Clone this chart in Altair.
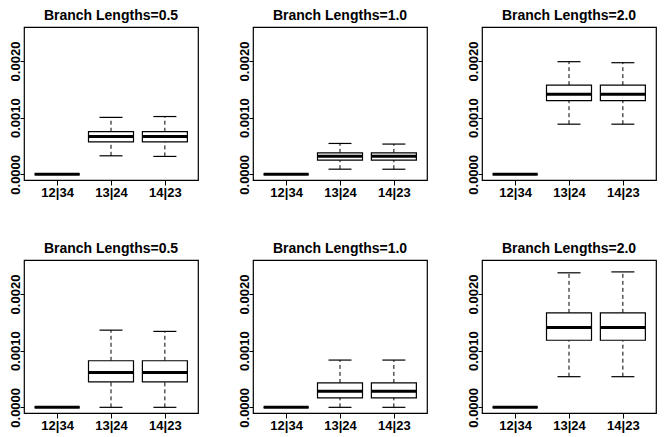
import altair as alt
import pandas as pd

categories = ["12|34", "13|24", "14|23"]
titles = ["Branch Lengths=0.5", "Branch Lengths=1.0", "Branch Lengths=2.0",
          "Branch Lengths=0.5", "Branch Lengths=1.0", "Branch Lengths=2.0"]

# per panel, per category (12|34, 13|24, 14|23)
lower = [
    [0.0, 0.000327, 0.000316],
    [0.0, 0.000091, 0.000090],
    [0.0, 0.000885, 0.000885],
    [0.0, 0.0, 0.0],
    [0.0, 0.0, 0.0],
    [0.0, 0.000541, 0.000541],
]
q1 = [
    [0.0, 0.000574, 0.000574],
    [0.0, 0.000252, 0.000252],
    [0.0, 0.001300, 0.001300],
    [0.0, 0.000448, 0.000448],
    [0.0, 0.000167, 0.000167],
    [0.0, 0.001184, 0.001184],
]
median = [
    [0.0, 0.000666, 0.000666],
    [0.0, 0.000320, 0.000320],
    [0.0, 0.001414, 0.001414],
    [0.0, 0.000616, 0.000616],
    [0.0, 0.000282, 0.000282],
    [0.0, 0.001408, 0.001408],
]
q3 = [
    [0.0, 0.000752, 0.000752],
    [0.0, 0.000379, 0.000379],
    [0.0, 0.001574, 0.001574],
    [0.0, 0.000822, 0.000822],
    [0.0, 0.000431, 0.000431],
    [0.0, 0.001667, 0.001667],
]
upper = [
    [0.0, 0.001005, 0.001020],
    [0.0, 0.000545, 0.000534],
    [0.0, 0.001988, 0.001970],
    [0.0, 0.001362, 0.001340],
    [0.0, 0.000834, 0.000834],
    [0.0, 0.002374, 0.002390],
]

y_ticks = [0.0, 0.0005, 0.001, 0.0015, 0.002, 0.0025]
y_domain = [-0.0001, 0.0026]

rows = []
for p in range(6):
    for i, c in enumerate(categories):
        rows.append(dict(panel=p, cat=c, lo=lower[p][i], q1=q1[p][i],
                         med=median[p][i], q3=q3[p][i], hi=upper[p][i]))
df = pd.DataFrame(rows)

FONT = "Liberation Sans"


def panel(p):
    base = alt.Chart(df).transform_filter(alt.datum.panel == p)
    xenc = alt.X("cat:N", sort=categories,
                 scale=alt.Scale(type="point", padding=0.615),
                 axis=alt.Axis(title=None, labelAngle=0, tickSize=5,
                               labelPadding=1, domain=False, grid=False,
                               labelFontSize=13))
    yscale = alt.Scale(domain=y_domain, nice=False, zero=False)
    yaxis = alt.Axis(values=y_ticks, title=None, grid=False, domain=False,
                     tickSize=4, labelPadding=1, labelAngle=270,
                     labelAlign="center", labelBaseline="alphabetic",
                     labelOverlap=False, labelFlush=False, labelFontSize=13,
                     labelExpr="datum.value == 0 || datum.value == 0.001 || datum.value == 0.002 ? format(datum.value, '.4f') : ''")
    wh_hi = base.mark_rule(color="black", strokeDash=[4, 3], strokeWidth=1).encode(
        x=xenc, y=alt.Y("q3:Q", scale=yscale, axis=yaxis), y2="hi:Q")
    wh_lo = base.mark_rule(color="black", strokeDash=[4, 3], strokeWidth=1).encode(
        x=xenc, y=alt.Y("lo:Q", scale=yscale), y2="q1:Q")
    box = base.mark_bar(size=45, fill="white", stroke="black", strokeWidth=1.2).encode(
        x=xenc, y=alt.Y("q1:Q", scale=yscale), y2="q3:Q")
    cap_hi = base.mark_tick(size=23, thickness=1.2, color="black", opacity=1).encode(
        x=xenc, y=alt.Y("hi:Q", scale=yscale))
    cap_lo = base.mark_tick(size=23, thickness=1.2, color="black", opacity=1).encode(
        x=xenc, y=alt.Y("lo:Q", scale=yscale))
    med = base.mark_tick(size=45, thickness=3, color="black", opacity=1).encode(
        x=xenc, y=alt.Y("med:Q", scale=yscale))
    return alt.layer(wh_hi, wh_lo, box, cap_hi, cap_lo, med).properties(
        width=174, height=153, title=alt.TitleParams(titles[p]))


chart = alt.concat(*[panel(p) for p in range(6)], columns=3,
                   spacing={"row": 80, "column": 55}, bounds="flush").properties(
    padding=0, background="white"
).configure_view(stroke="black", strokeWidth=1.2).configure_title(
    font=FONT, fontSize=14, fontWeight="bold", color="black", offset=4
).configure_axis(
    labelFont=FONT, labelColor="black", labelFontWeight="bold",
    tickColor="black", tickWidth=1
)

chart.save("out.html", embed_options={"renderer": "svg", "actions": False})
